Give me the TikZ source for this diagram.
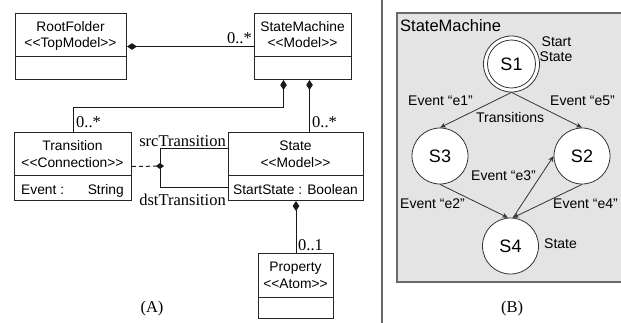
\documentclass[tikz,border=0pt]{standalone}
\usepackage{fontspec}
\setmainfont{Liberation Sans}
\newfontfamily\serf{Liberation Serif}
\usetikzlibrary{arrows.meta}
\definecolor{gfill}{RGB}{228,228,228}
\definecolor{gborder}{RGB}{105,105,105}
\begin{document}
\begin{tikzpicture}[x=1pt,y=-1pt,
  umlbox/.style={draw=black!85, line width=1pt, anchor=north west, inner sep=0pt, fill=white},
  divl/.style={draw=black!85, line width=1pt},
  nm/.style={font=\fontsize{13.8}{16}\selectfont, anchor=base, inner sep=0pt},
  lab/.style={font=\serf\fontsize{16.5}{18}\selectfont, inner sep=0pt},
  conn/.style={draw=black!90, line width=1pt},
  comp/.style={conn, {Diamond[length=10pt,width=6.5pt]}-},
  statec/.style={circle, draw=black!80, fill=white, line width=0.8pt, minimum size=56pt, inner sep=0pt, font=\fontsize{18}{20}\selectfont},
  arr/.style={draw=black!80, line width=0.8pt, -{Stealth[length=6pt,width=5pt]}},
  ev/.style={font=\fontsize{14}{16}\selectfont, inner sep=0pt, anchor=base west}
]
\useasboundingbox (0,0) rectangle (621,322);

% ---------- Panel A ----------
\node[umlbox, minimum width=111pt, minimum height=66pt] (rf) at (15,13) {};
\draw[divl] (15,56) -- (126,56);
\node[nm] (rfn) at (70.5,31.5) {RootFolder};
\node[nm] (rfs) at (70.5,47.5) {<{}<TopModel>{}>};

\node[umlbox, minimum width=97pt, minimum height=66pt] (sm) at (254,13) {};
\draw[divl] (254,56) -- (351,56);
\node[nm] (smn) at (302.5,31.5) {StateMachine};
\node[nm] (sms) at (302.5,47.5) {<{}<Model>{}>};

\node[umlbox, minimum width=117pt, minimum height=68pt] (tr) at (14,132) {};
\draw[divl] (14,175) -- (131,175);
\node[nm] (trn) at (72.5,150.5) {Transition};
\node[nm] (trs) at (72.5,167) {<{}<Connection>{}>};
\node[nm, anchor=base west] (tra) at (21,194) {Event :};
\node[nm, anchor=base east] (trb) at (124,194) {String};

\node[umlbox, minimum width=135pt, minimum height=68pt] (st) at (228,132) {};
\draw[divl] (228,175) -- (363,175);
\node[nm] (stn) at (295.5,150.5) {State};
\node[nm] (sts) at (295.5,167) {<{}<Model>{}>};
\node[nm] (sta) at (295.5,194) {StartState : Boolean};

\node[umlbox, minimum width=75pt, minimum height=65pt] (pr) at (258,253) {};
\draw[divl] (258,297) -- (333,297);
\node[nm] (prn) at (295.5,271.5) {Property};
\node[nm] (prs) at (295.5,288) {<{}<Atom>{}>};

\draw[comp] (rf.east) -- (sm.west);
\node[lab, anchor=base east] (m1) at (252,43) {0..*};

\draw[comp] ([xshift=-19.5pt]sm.south) -- ++(0,27) -| (tr.north);
\node[lab, anchor=base west] (m2) at (76,127) {0..*};
\draw[comp] ([xshift=6.5pt]sm.south) -- ([xshift=6.5pt]sm.south |- st.north);
\node[lab, anchor=base west] (m3) at (312,127) {0..*};

\coordinate (jn) at (160,166);
\draw[conn] ([yshift=-16pt]st.north west) -- ([yshift=-16pt]st.north west -| jn)
  -- ([yshift=-55pt]st.north west -| jn) -- ([yshift=-55pt]st.north west);
\draw[conn, dash pattern=on 4pt off 3pt, -{Diamond[length=8pt,width=6pt]}] (tr.east) -- ([xshift=4pt]jn);
\node[lab, anchor=base east] (srcl) at (226,146) {srcTransition};
\node[lab, anchor=base east] (dstl) at (226,205) {dstTransition};

\draw[comp] (st.south) -- (pr.north);
\node[lab, anchor=base west] (m4) at (298,250) {0..1};

\node[lab, anchor=base] (capA) at (152,312) {(A)};

% ---------- separator ----------
\draw[draw=black!60, line width=1.5pt] (382,-2) -- (382,324);

% ---------- Panel B ----------
\draw[draw=gborder, fill=gfill, line width=1.6pt] (397,13) rectangle (640,282);
\node[font=\fontsize{16.5}{18}\selectfont, inner sep=0pt, anchor=base west] (smt) at (400,31) {StateMachine};

\node[statec] (s1) at (511.5,64) {S1};
\draw[draw=black!80, line width=0.8pt] (s1.center) circle[radius=24pt];
\node[statec] (s3) at (440,156) {S3};
\node[statec] (s2) at (582,156) {S2};
\node[statec] (s4) at (510.5,246) {S4};

\draw[arr] (s1.south) -- (s3.north);
\draw[arr] (s1.south) -- (s2.north);
\draw[arr] (s3.south) -- (s4.95);
\draw[arr] (s2.south) -- (s4.85);
\draw[arr] (s4.85) -- (s2.west);

\node[ev] (l1) at (408,105) {Event “e1”};
\node[ev] (l5) at (550,105) {Event “e5”};
\node[ev] (lt) at (476,122.5) {Transitions};
\node[ev] (l3) at (471,180) {Event “e3”};
\node[ev] (l2) at (400,208) {Event “e2”};
\node[ev] (l4) at (553,208) {Event “e4”};
\node[ev] (ls) at (544,248) {State};
\node[ev] (lst1) at (541.5,46.5) {Start};
\node[ev] (lst2) at (539.5,61.7) {State};

\node[lab, anchor=base] (capB) at (512,312) {(B)};
\end{tikzpicture}
\end{document}
